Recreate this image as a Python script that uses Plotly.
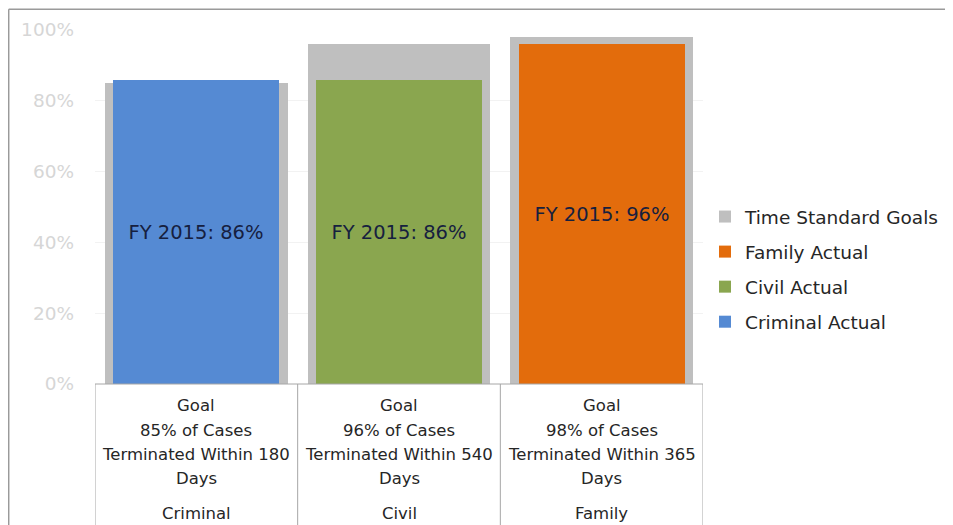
import plotly.graph_objects as go

categories = ["Criminal", "Civil", "Family"]
goal_values = [85, 96, 98]
actual_values = [86, 86, 96]
actual_names = ["Criminal Actual", "Civil Actual", "Family Actual"]
actual_colors = ["#558ad3", "#8aa64f", "#e36c0c"]
goal_color = "#bfbfbf"
label_prefix = "FY 2015: "
goal_lines = [
    ["Goal", "85% of Cases", "Terminated Within 180", "Days"],
    ["Goal", "96% of Cases", "Terminated Within 540", "Days"],
    ["Goal", "98% of Cases", "Terminated Within 365", "Days"],
]
y_ticks = [0, 20, 40, 60, 80, 100]
y_tick_text = [f"{v}%" for v in y_ticks]

OFF = 8  # page body margin
W, H = 945, 517
L, R, T, B = 87, 250, 21.5, 140.5
PW, PH = W - L - R, H - T - B

def py_paper(page_y):
    return (H - B - (page_y - OFF)) / PH

def px_paper(page_x):
    return (page_x - OFF - L) / PW

text_font = "DejaVu Sans"

fig = go.Figure()
fig.add_trace(go.Bar(
    x=categories, y=goal_values, width=0.9, name="Time Standard Goals",
    marker=dict(color=goal_color, line=dict(width=0)), legendrank=1,
    legendgroup="g0", hoverinfo="skip",
))
for i, cat in enumerate(categories):
    fig.add_trace(go.Bar(
        x=[cat], y=[actual_values[i]], width=0.82, name=actual_names[i],
        marker=dict(color=actual_colors[i], line=dict(width=0)),
        text=[f"{label_prefix}{actual_values[i]}%"], textposition="inside",
        insidetextanchor="middle", textangle=0,
        textfont=dict(family="DejaVu Sans", size=19.5, color="#16203f"),
        legendrank=4 - i, legendgroup=f"g{i+1}",
    ))

shapes = []
line_col = "#a6a6a6"
for xv in [-0.5, 0.5, 1.5, 2.5]:
    shapes.append(dict(type="line", xref="x", yref="paper", x0=xv, x1=xv,
                       y0=0, y1=py_paper(H + OFF + 5), line=dict(color=line_col, width=1)))
shapes.append(dict(type="line", xref="x", yref="paper", x0=-0.5, x1=2.5,
                   y0=0, y1=0, line=dict(color=line_col, width=1)))
shapes.append(dict(type="line", xref="paper", yref="paper",
                   x0=px_paper(8.7), x1=px_paper(W + OFF + 5),
                   y0=py_paper(8.7), y1=py_paper(8.7),
                   line=dict(color="#9a9a9a", width=1.5)))
shapes.append(dict(type="line", xref="paper", yref="paper",
                   x0=px_paper(8.7), x1=px_paper(8.7),
                   y0=py_paper(8.7), y1=py_paper(H + OFF + 5),
                   line=dict(color="#9a9a9a", width=1.5)))

annotations = []
row_py = [406, 431, 455, 479]
tfont = dict(family=text_font, size=16.5, color="#262626")
for i, cat in enumerate(categories):
    for j, txt in enumerate(goal_lines[i]):
        annotations.append(dict(x=cat, xref="x", yref="paper", y=py_paper(row_py[j]),
                                text=txt, showarrow=False, yanchor="middle", font=tfont))
    annotations.append(dict(x=cat, xref="x", yref="paper", y=py_paper(514),
                            text=cat, showarrow=False, yanchor="middle", font=tfont))

fig.update_layout(
    width=W, height=H,
    margin=dict(l=L, r=R, t=T, b=B, autoexpand=False),
    paper_bgcolor="white", plot_bgcolor="white",
    barmode="overlay",
    bargap=0,
    showlegend=True,
    legend=dict(x=px_paper(705), xanchor="left", y=py_paper(198), yanchor="top",
                font=dict(family=text_font, size=18.5, color="#262626"),
                traceorder="grouped", itemwidth=30, tracegroupgap=8,
                bgcolor="rgba(0,0,0,0)"),
    xaxis=dict(range=[-0.5, 2.5], showticklabels=False, showgrid=False,
               zeroline=False, showline=False, ticks=""),
    yaxis=dict(range=[0, 100], tickmode="array", tickvals=y_ticks, ticktext=y_tick_text,
               tickfont=dict(family=text_font, size=18.5, color="#d6d6d6"),
               showgrid=True, gridcolor="#f2f2f2", gridwidth=1,
               zeroline=False, showline=False, ticks="", ticklabelstandoff=20),
    shapes=shapes,
    annotations=annotations,
)

fig.write_html("out.html")
